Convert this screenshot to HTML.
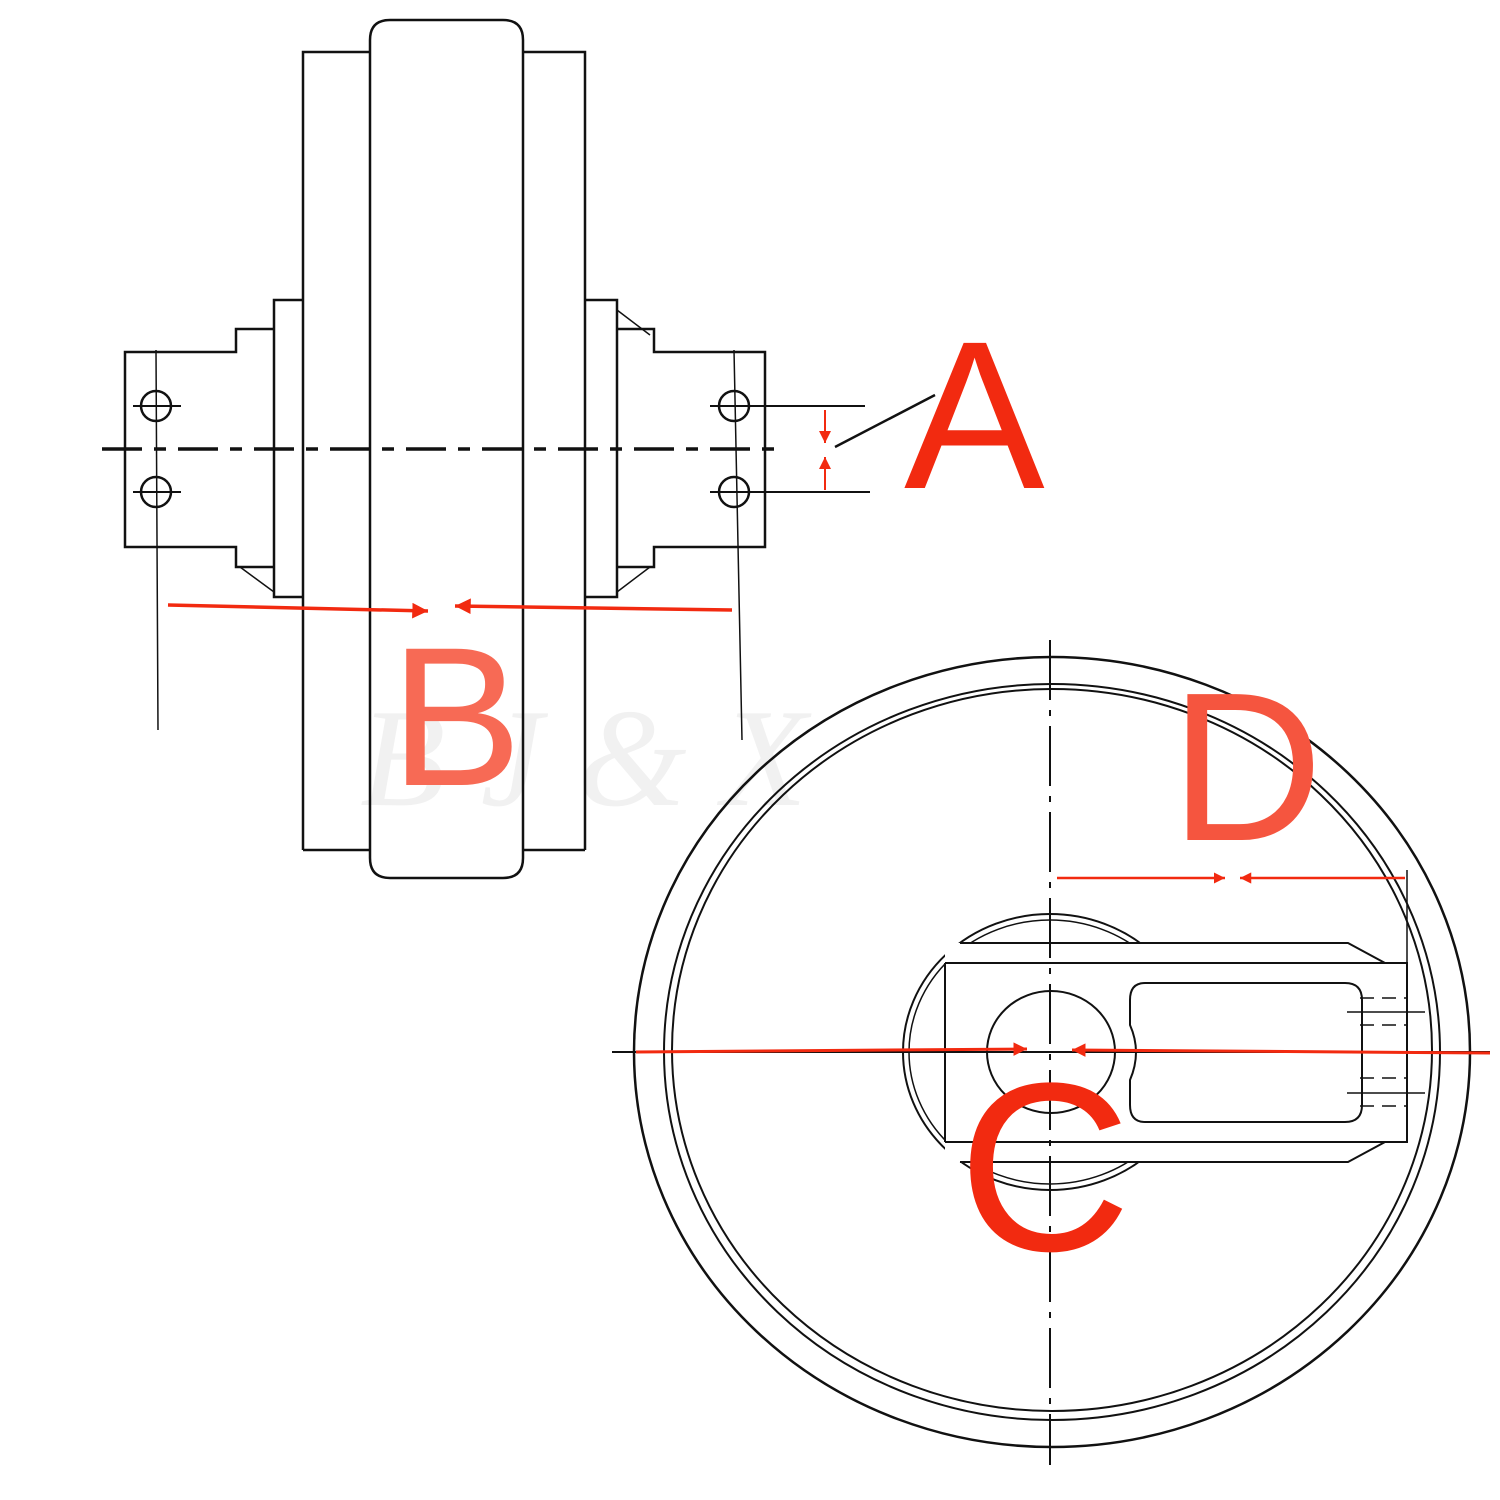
<!DOCTYPE html>
<html><head><meta charset="utf-8"><style>html,body{margin:0;padding:0;background:#fff}svg{display:block}</style></head>
<body>
<svg width="1500" height="1500" viewBox="0 0 1500 1500" xmlns="http://www.w3.org/2000/svg">
<defs>
<marker id="ar" viewBox="0 0 10 10" refX="10" refY="5" markerWidth="4.5" markerHeight="4.5" orient="auto" markerUnits="strokeWidth"><path d="M0,0 L10,5 L0,10 z" fill="#f22a10"/></marker>
<marker id="ar2" viewBox="0 0 10 10" refX="10" refY="5" markerWidth="6" markerHeight="6" orient="auto" markerUnits="strokeWidth"><path d="M0,0 L10,5 L0,10 z" fill="#f22a10"/></marker>
</defs>
<text x="360" y="805" font-family="Liberation Serif, serif" font-style="italic" font-size="140" fill="#f1f1f1">B J &amp; X</text>
<g fill="none" stroke="#111" stroke-width="2.5">
<path d="M303,850 L303,52 L370,52 M585,850 L585,52 L523,52"/>
<path d="M303,850 L370,850 M585,850 L523,850"/>
<path d="M370,40 Q370,20 390,20 L503,20 Q523,20 523,40 L523,858 Q523,878 503,878 L390,878 Q370,878 370,858 Z"/>
<path d="M303,300 L274,300 L274,597 L303,597"/>
<path d="M274,329 L236,329 L236,352 L125,352 L125,547 L236,547 L236,567 L274,567"/>
<path d="M240,567 L274,592" stroke-width="1.5"/>
<path d="M585,300 L617,300 L617,597 L585,597"/>
<path d="M617,329 L654,329 L654,352 L765,352 L765,547 L654,547 L654,567 L617,567"/>
<path d="M617,310 L650,335 M617,592 L650,567" stroke-width="1.5"/>
<circle cx="156" cy="406" r="15"/><circle cx="156" cy="492" r="15"/>
<circle cx="734" cy="406" r="15"/><circle cx="734" cy="492" r="15"/>
<path d="M133,406 L181,406 M133,492 L181,492 M710,406 L865,406 M710,492 L870,492" stroke-width="2"/>
<path d="M156,350 L158,730 M734,350 L742,740" stroke-width="1.5"/>
<path d="M102,449 L775,449" stroke-width="3.5" stroke-dasharray="40,12,12,12"/>
<line x1="835" y1="447" x2="935" y2="395" stroke-width="2.5"/>
<ellipse cx="1052" cy="1052" rx="418" ry="395"/>
<ellipse cx="1052" cy="1052" rx="388" ry="368" stroke-width="2"/>
<ellipse cx="1052" cy="1050" rx="380" ry="361" stroke-width="2"/>
<!-- hub -->
<ellipse cx="1050" cy="1052" rx="147" ry="138" stroke-width="2"/>
<ellipse cx="1050" cy="1052" rx="141" ry="132" stroke-width="1.5"/>
<path d="M960,943 L1348,943 L1385,963 L1407,963 L1407,1142 L1385,1142 L1348,1162 L960,1162 L945,1162 L945,943 Z" fill="#fff" stroke="none"/>
<path d="M960,943 L1348,943 L1385,963 L1407,963 L1407,1142 L1385,1142 L1348,1162 L960,1162" stroke-width="2"/>
<path d="M945,963 L1407,963 M945,1142 L1407,1142 M945,963 L945,1142" stroke-width="2"/>
<path d="M1050,640 L1050,1465" stroke-width="2" stroke-dasharray="60,10,6,10"/>
<path d="M612,1052 L1490,1052" stroke-width="2"/>
<ellipse cx="1051" cy="1052" rx="64" ry="61" stroke-width="2"/>
<path d="M1145,983 L1345,983 Q1362,983 1362,1000 L1362,1105 Q1362,1122 1345,1122 L1145,1122 Q1130,1122 1130,1105 L1130,1080 Q1142,1052 1130,1025 L1130,1000 Q1130,983 1145,983 Z" stroke-width="2"/>
<path d="M1347,1012 L1425,1012 M1347,1093 L1425,1093" stroke-width="1.5"/>
<path d="M1360,998 L1407,998 M1360,1025 L1407,1025 M1360,1078 L1407,1078 M1360,1106 L1407,1106" stroke-width="1.5" stroke-dasharray="14,8"/>
<path d="M1407,870 L1407,1060" stroke-width="1.5"/>
</g>
<g stroke="#f22a10" fill="none">
<line x1="168" y1="605" x2="428" y2="611" stroke-width="3.5" marker-end="url(#ar)"/>
<line x1="732" y1="610" x2="455" y2="606" stroke-width="3.5" marker-end="url(#ar)"/>
<line x1="825" y1="410" x2="825" y2="443" stroke-width="2" marker-end="url(#ar2)"/>
<line x1="825" y1="490" x2="825" y2="457" stroke-width="2" marker-end="url(#ar2)"/>
<line x1="636" y1="1052" x2="1027" y2="1049" stroke-width="3" marker-end="url(#ar)"/>
<line x1="1490" y1="1053" x2="1072" y2="1050" stroke-width="3" marker-end="url(#ar)"/>
<line x1="1057" y1="878" x2="1225" y2="878" stroke-width="2.5" marker-end="url(#ar)"/>
<line x1="1405" y1="878" x2="1240" y2="878" stroke-width="2.5" marker-end="url(#ar)"/>
</g>
<g font-family="Liberation Sans, sans-serif">
<text x="904" y="488" font-size="211" fill="#f22a10">A</text>
<text x="390" y="785" font-size="198" fill="#f76a55">B</text>
<text x="958" y="1250" font-size="240" fill="#f22a10">C</text>
<text x="1170" y="840" font-size="212" fill="#f5553f">D</text>
</g>
</svg>
</body></html>
